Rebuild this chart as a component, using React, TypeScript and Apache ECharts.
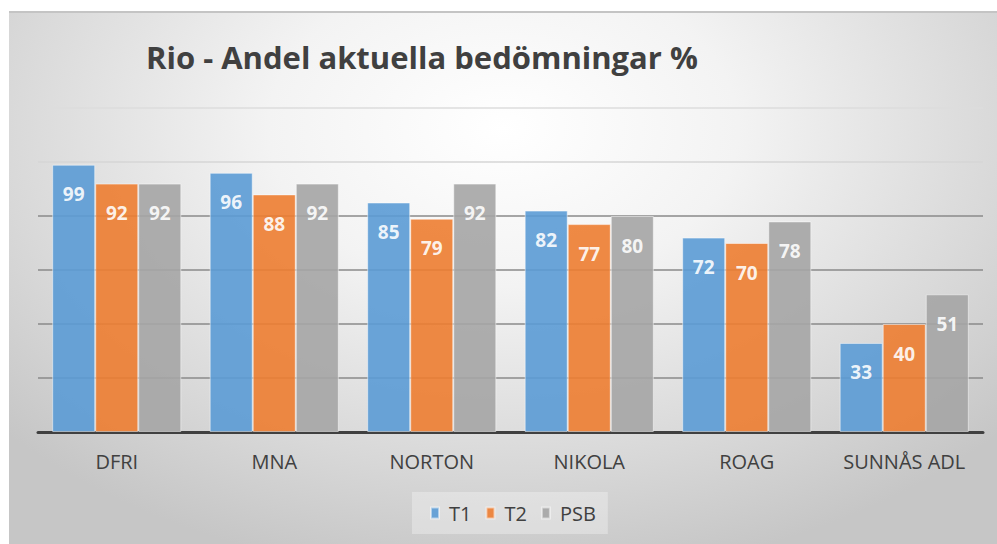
import React, { useEffect, useRef } from "react";
import * as echarts from "echarts";

const categories = ["DFRI", "MNA", "NORTON", "NIKOLA", "ROAG", "SUNNÅS ADL"];
const seriesNames = ["T1", "T2", "PSB"];
const t1Values = [99, 96, 85, 82, 72, 33];
const t2Values = [92, 88, 79, 77, 70, 40];
const psbValues = [92, 92, 92, 80, 78, 51];
const colors = ["#5b9bd5", "#ed7d31", "#a5a5a5"];
const titleText = "Rio - Andel aktuella bedömningar %";

export default function App() {
  const ref = useRef<HTMLDivElement>(null);
  useEffect(() => {
    if (!ref.current) return;
    const chart = echarts.init(ref.current, null, { renderer: "svg" });
    const font = "'Open Sans', 'Noto Sans', sans-serif";
    const values = [t1Values, t2Values, psbValues];
    chart.setOption({
      animation: false,
      backgroundColor: "transparent",
      textStyle: { fontFamily: font },
      title: {
        text: titleText,
        left: 137,
        top: 30,
        padding: 0,
        textStyle: { fontFamily: font, fontSize: 31, fontWeight: "bold", color: "#404040" },
      },
      legend: {
        data: seriesNames,
        left: 403,
        top: 481,
        padding: [11, 12, 11, 18],
        backgroundColor: "rgba(255,255,255,0.3)",
        itemWidth: 8,
        itemHeight: 11,
        itemGap: 14,
        icon: "rect",
        textStyle: { fontFamily: font, fontSize: 20, color: "#404040", padding: [0, 0, 0, 5] },
      },
      grid: { left: 29, right: 14, top: 97, bottom: 112, containLabel: false },
      xAxis: {
        type: "category",
        data: categories,
        axisLine: { show: true, lineStyle: { color: "#404040", width: 3 } },
        axisTick: { show: false },
        axisLabel: {
          interval: 0,
          hideOverlap: false,
          margin: 19,
          fontSize: 20,
          color: "#404040",
          fontFamily: font,
        },
      },
      yAxis: {
        type: "value",
        min: 0,
        max: 120,
        interval: 20,
        axisLabel: { show: false },
        axisLine: { show: false },
        axisTick: { show: false },
        splitLine: {
          show: true,
          lineStyle: {
            width: 1.5,
            color: ["rgba(0,0,0,0)", "#8a8a8a", "#8a8a8a", "#8a8a8a", "#8a8a8a", "#d6d6d6", "#dcdcdc"],
          },
        },
      },
      series: seriesNames.map((name, i) => ({
        name,
        type: "bar",
        data: values[i],
        barGap: "0%",
        barCategoryGap: "18%",
        itemStyle: {
          color: colors[i],
          opacity: 0.9,
          borderColor: "rgba(255,255,255,0.55)",
          borderWidth: 1,
        },
        label: {
          show: true,
          position: "insideTop",
          distance: 20,
          fontSize: 19,
          fontWeight: "bold",
          color: "#ffffff",
          fontFamily: font,
        },
      })),
      graphic: [
        {
          type: "rect",
          shape: { x: 0, y: 0, width: 988, height: 2 },
          style: { fill: "#c4c4c4" },
        },
      ],
    });
    return () => chart.dispose();
  }, []);
  return (
    <div
      ref={ref}
      style={{
        position: "absolute",
        left: 9,
        top: 11,
        width: 988,
        height: 533,
        background:
          "radial-gradient(ellipse 68% 85% at 50% 22%, #ffffff 0%, #f3f3f3 35%, #d8d8d8 75%, #c6c6c6 100%)",
      }}
    />
  );
}
